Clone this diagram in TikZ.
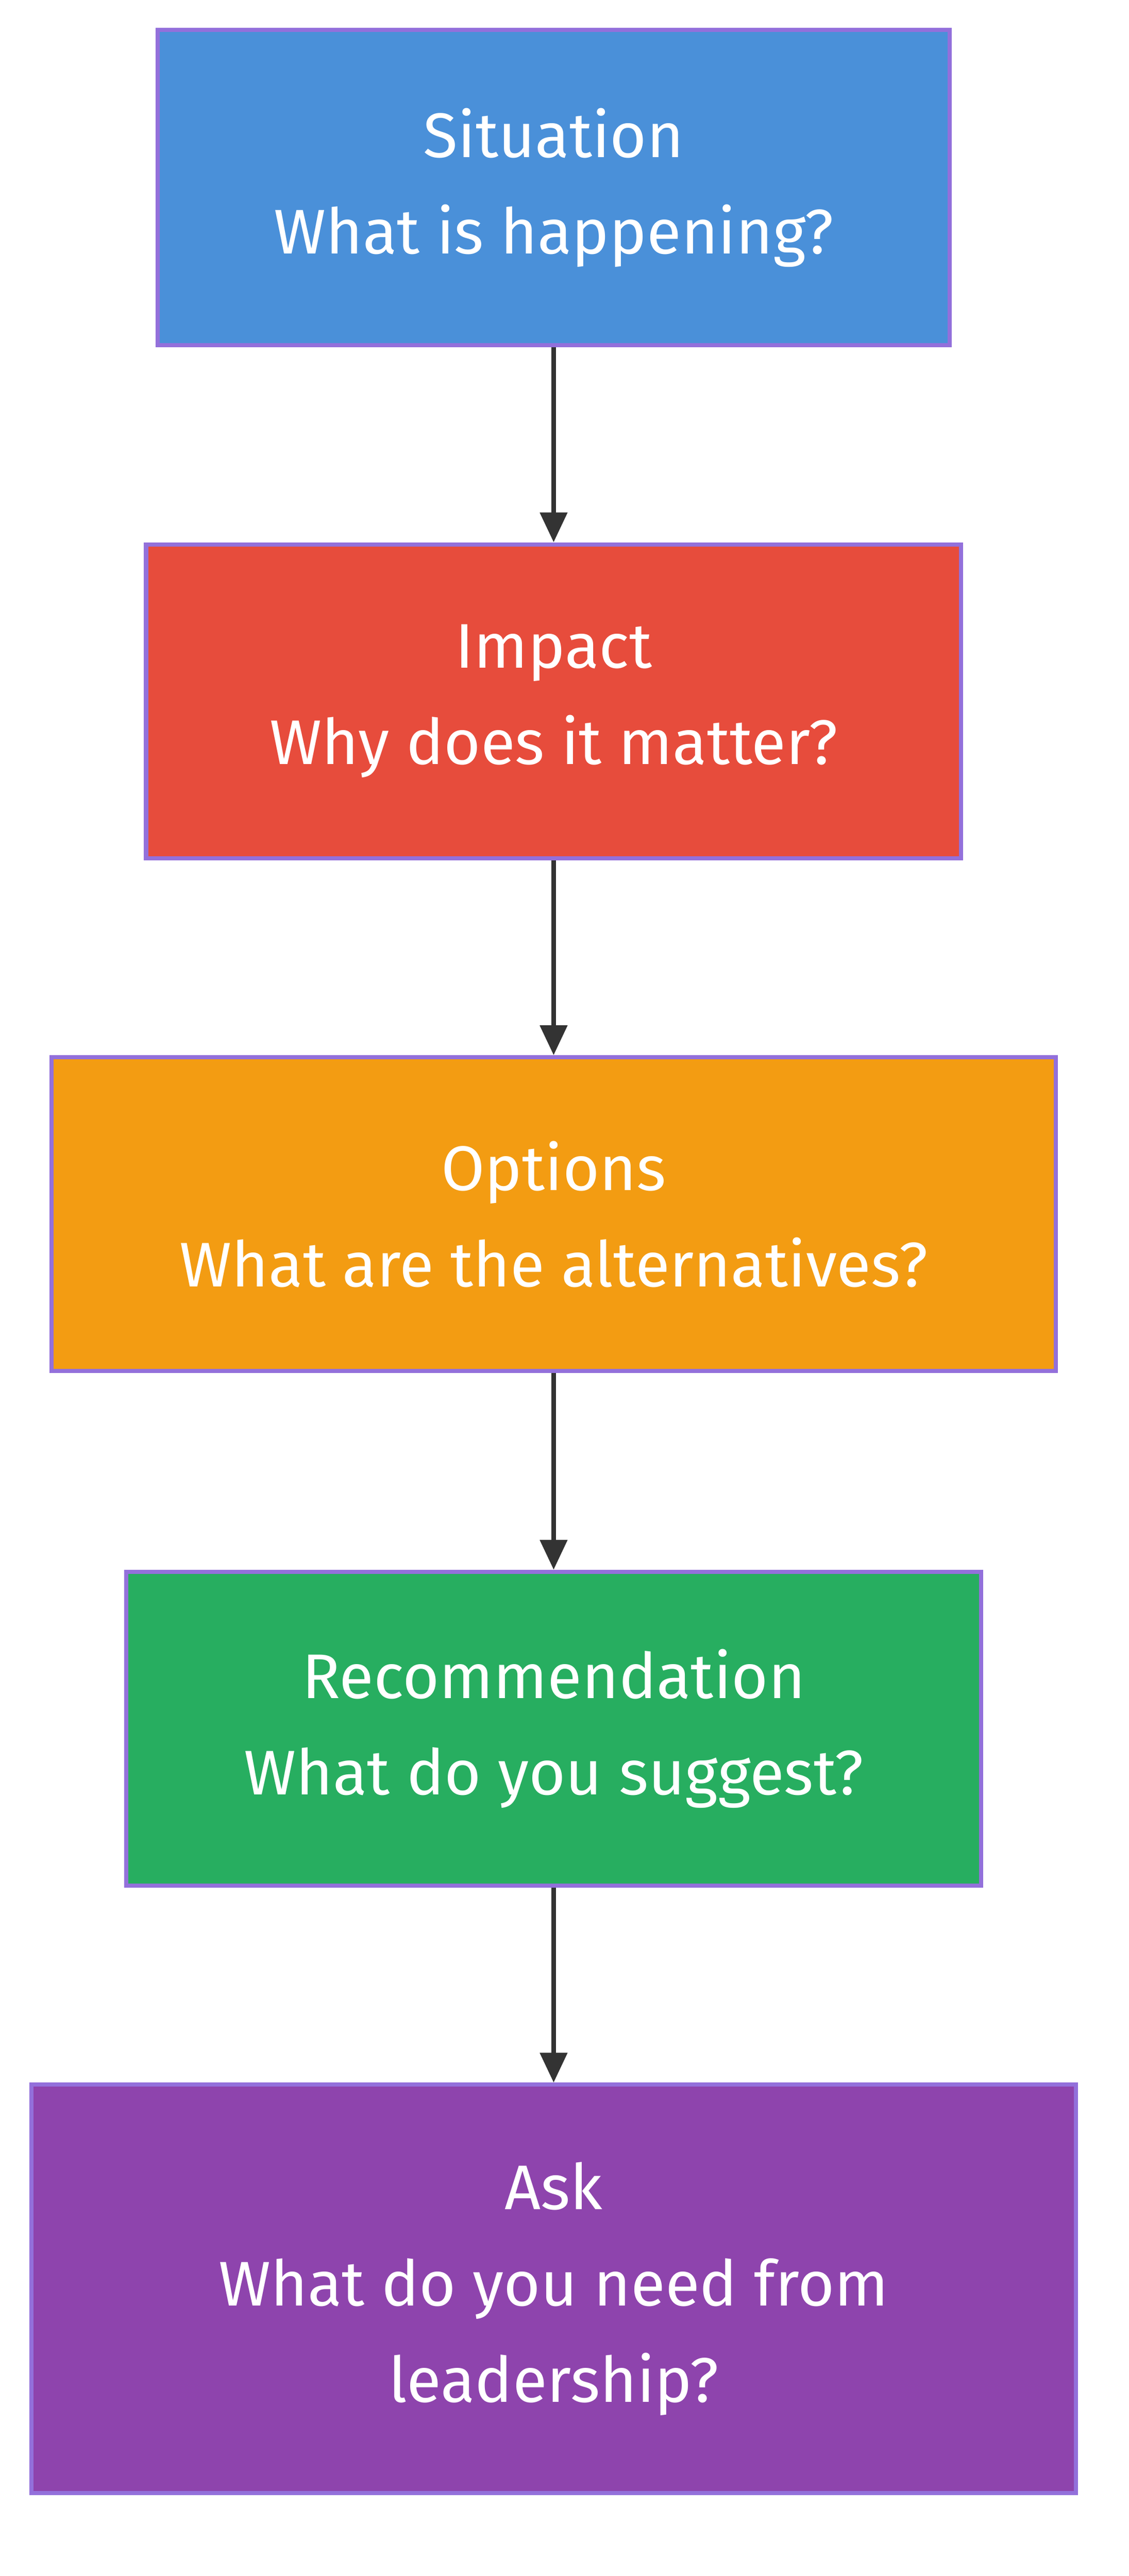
\documentclass[tikz,border=0pt]{standalone}
\usepackage{fontspec}
\setmainfont{Fira Sans}
\usetikzlibrary{arrows.meta}
\definecolor{c1}{HTML}{4A90D9}
\definecolor{c2}{HTML}{E74C3C}
\definecolor{c3}{HTML}{F39C12}
\definecolor{c4}{HTML}{27AE60}
\definecolor{c5}{HTML}{8E44AD}
\definecolor{bd}{HTML}{9370DB}
\definecolor{ar}{HTML}{333333}
\tikzset{
 box/.style={draw=bd,line width=2.5pt,text=white,align=center,inner sep=0pt,
   font=\fontsize{38}{58}\selectfont},
 conn/.style={draw=ar,line width=3pt,-{Triangle[length=18pt,width=16pt]}}
}
\begin{document}
\begin{tikzpicture}[x=1pt,y=-1pt]
\useasboundingbox (0,0) rectangle (680,1552);
\node[box,fill=c1,minimum width=477pt,minimum height=190pt] (s) at (333.5,113) {Situation\\What is happening?};
\node[box,fill=c2,minimum width=491pt,minimum height=189pt] (i) at (333.5,422.5) {Impact\\Why does it matter?};
\node[box,fill=c3,minimum width=605pt,minimum height=189pt] (o) at (333.5,731.5) {Options\\What are the alternatives?};
\node[box,fill=c4,minimum width=515pt,minimum height=189pt] (r) at (333.5,1041.5) {Recommendation\\What do you suggest?};
\node[box,fill=c5,minimum width=629pt,minimum height=246pt] (a) at (333.5,1379) {Ask\\What do you need from\\leadership?};
\draw[conn] (s) -- (i);
\draw[conn] (i) -- (o);
\draw[conn] (o) -- (r);
\draw[conn] (r) -- (a);
\end{tikzpicture}
\end{document}
